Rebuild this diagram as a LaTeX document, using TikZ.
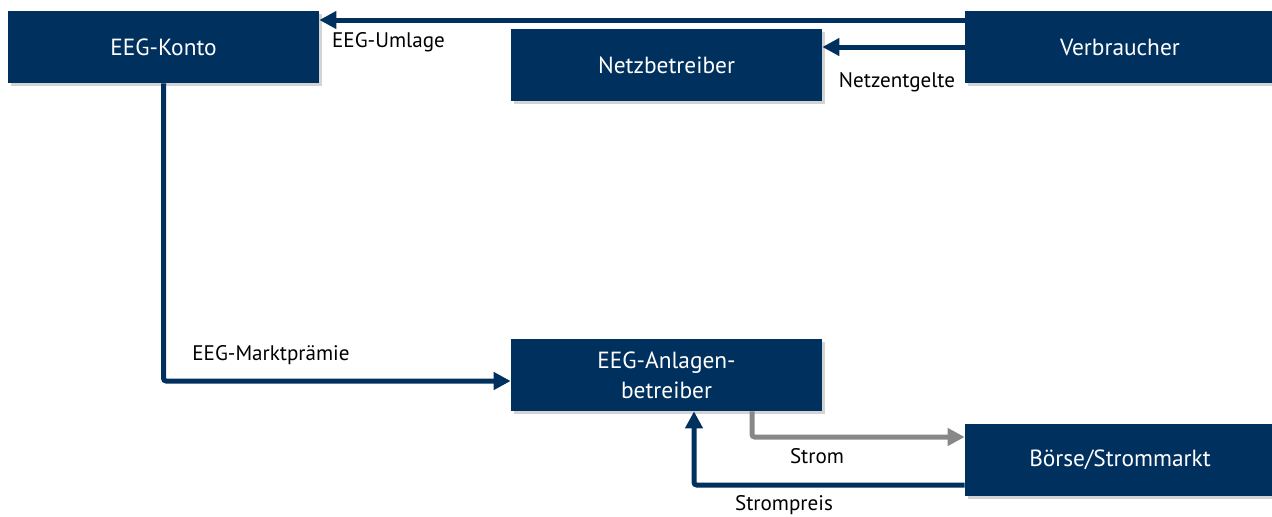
\documentclass[tikz,border=0pt]{standalone}
\usepackage{fontspec}
\setmainfont{PT Sans}
\usetikzlibrary{arrows.meta,shadows}
\definecolor{eegblue}{HTML}{00305E}
\definecolor{eeggray}{HTML}{888888}

\begin{document}
\begin{tikzpicture}[
        box/.style={fill=eegblue, text=white, minimum width=6.22cm, minimum height=1.44cm,
            inner sep=0pt, align=center, font=\fontsize{13.3}{17}\selectfont,
            drop shadow={shadow xshift=.05cm, shadow yshift=-.05cm, opacity=.35}},
        flow/.style={draw=eegblue, line width=.1cm, rounded corners=1.5pt,
            -{Triangle[length=.34cm,width=.34cm]}},
        lbl/.style={font=\fontsize{12}{14}\selectfont}
    ]
        \useasboundingbox (0,0) rectangle (25.44,10.32);
        \node[box] (konto) at (3.27,9.38) {EEG-Konto};
        \node[box] (netz) at (13.33,9.02) {Netzbetreiber};
        \node[box, minimum width=6.2cm] (verb) at (22.4,9.38) {Verbraucher};
        \node[box] (anlagen) at (13.33,2.82) {EEG-Anlagen-\\betreiber};
        \node[box, minimum width=6.2cm] (boerse) at (22.4,1.12) {Börse/Strommarkt};
        %
        \draw[flow] ([yshift=.54cm]verb.west) -- ([yshift=.54cm]konto.east);
        \draw[flow] (verb.west) -- (verb.west -| netz.east);
        \draw[flow] (konto.south) |- ([yshift=-.12cm]anlagen.west);
        \draw[flow, draw=eeggray] ([xshift=1.71cm]anlagen.south) |- ([yshift=.46cm]boerse.west);
        \draw[flow] ([yshift=-.5cm]boerse.west) -| ([xshift=.55cm]anlagen.south);
        %
        \node[lbl] (umlage) at (7.77,9.48) {EEG-Umlage};
        \node[lbl] (entgelte) at (17.94,8.68) {Netzentgelte};
        \node[lbl] (praemie) at (5.42,3.22) {EEG-Marktprämie};
        \node[lbl] (strom) at (16.34,1.20) {Strom};
        \node[lbl] (preis) at (15.68,0.22) {Strompreis};
    \end{tikzpicture}
\end{document}
